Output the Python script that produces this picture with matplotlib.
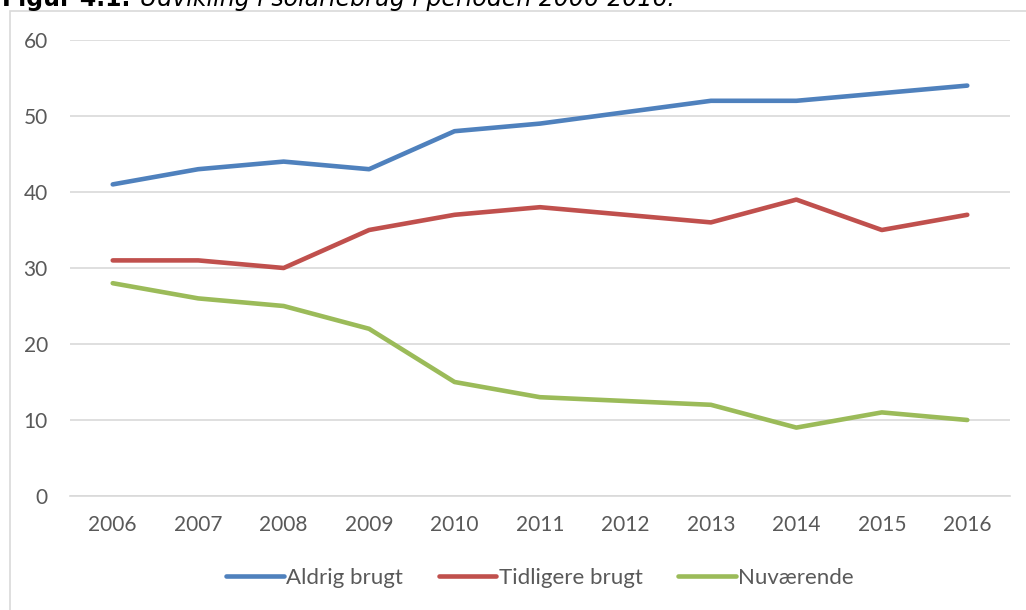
import matplotlib.pyplot as plt
from matplotlib.patches import Rectangle

years = ['2006', '2007', '2008', '2009', '2010', '2011', '2012', '2013', '2014', '2015', '2016']
aldrig = [41, 43, 44, 43, 48, 49, 50.5, 52, 52, 53, 54]
tidligere = [31, 31, 30, 35, 37, 38, 37, 36, 39, 35, 37]
nuvaerende = [28, 26, 25, 22, 15, 13, 12.5, 12, 9, 11, 10]
labels = ['Aldrig brugt', 'Tidligere brugt', 'Nuværende']
colors = ['#4F81BD', '#C0504D', '#9BBB59']

plt.rcParams['font.family'] = ['Lato', 'DejaVu Sans']

W, H = 1026, 610
fig = plt.figure(figsize=(W / 100, H / 100), dpi=100)

# outer chart frame
fig.patches.append(Rectangle((10 / W, -0.1), 1.2, 1 - 11 / H + 0.1, transform=fig.transFigure,
                             fill=False, edgecolor='#D9D9D9', linewidth=1.2))

# caption, cut off by the top of the picture (as in the source page)
cap_y = 1 - 6 / H
t1 = fig.text(2 / W, cap_y, 'Figur 4.1.', fontsize=17, fontweight='bold', va='baseline',
              family='DejaVu Sans')
fig.canvas.draw()
bb = t1.get_window_extent()
fig.text((bb.x1 + 10) / W, cap_y, 'Udvikling i solariebrug i perioden 2006-2016.',
         fontsize=17, fontstyle='italic', va='baseline', family='DejaVu Sans')

ax = fig.add_axes([70 / W, 1 - 496 / H, (1010 - 70) / W, (496 - 40) / H])
x = range(len(years))
for vals, lab, c in zip([aldrig, tidligere, nuvaerende], labels, colors):
    ax.plot(x, vals, color=c, linewidth=3.3, label=lab, solid_capstyle='round', solid_joinstyle='round')

ax.set_xlim(-0.5, len(years) - 0.5)
ax.set_ylim(0, 60)
ax.set_yticks(range(0, 61, 10))
ax.set_xticks(list(x))
ax.set_xticklabels(years)
ax.grid(axis='y', color='#D9D9D9', linewidth=1.2)
ax.set_axisbelow(True)
for s in ['top', 'right', 'left']:
    ax.spines[s].set_visible(False)
ax.spines['bottom'].set_color('#D9D9D9')
ax.spines['bottom'].set_linewidth(1.2)
ax.tick_params(axis='both', length=0, labelsize=15, labelcolor='#595959')
ax.tick_params(axis='y', pad=16)
ax.tick_params(axis='x', pad=14)

leg = ax.legend(loc='center', bbox_to_anchor=(0.5, (496 - 578) / 456), ncol=3, frameon=False,
                fontsize=16, handlelength=2.6, handletextpad=0.1, columnspacing=1.6)
for t in leg.get_texts():
    t.set_color('#595959')

fig.savefig('out.png', dpi=100)
